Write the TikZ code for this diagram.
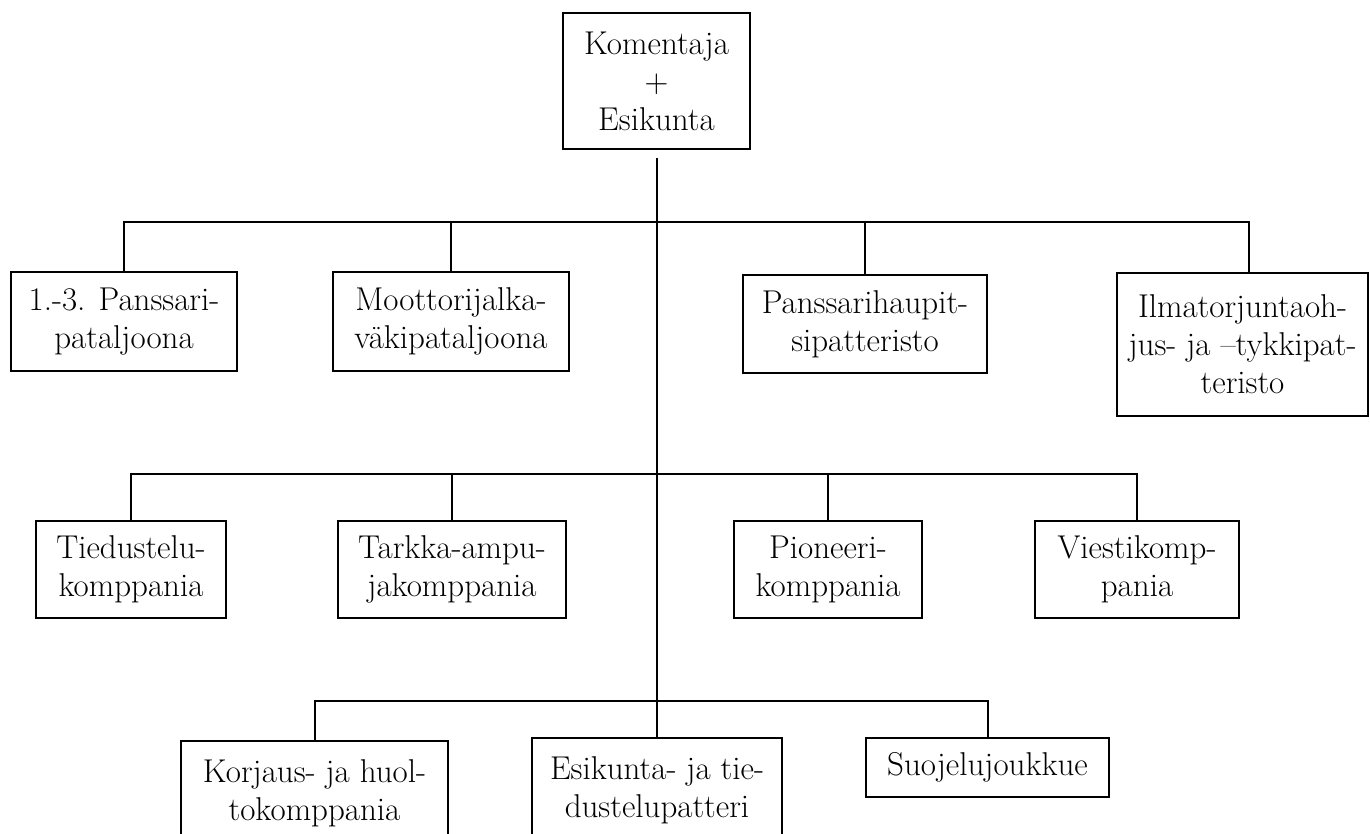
\documentclass[tikz,border=0pt]{standalone}
\usepackage{tikz}

\begin{document}
\begin{tikzpicture}[x=1pt,y=-1pt]
  \tikzset{
    unit/.style={draw, line width=2pt, align=center, inner sep=0pt,
      font=\fontsize{33}{38}\selectfont},
    link/.style={line width=2pt},
  }
\useasboundingbox (0,0) rectangle (1370,833);
\clip (0,0) rectangle (1370,833);

% command
\node[unit, minimum width=187, minimum height=136] (hq) at (656.5,81) {Komentaja\\+\\Esikunta};

% first level
\node[unit, minimum width=226, minimum height=99] (pans) at (124,321.5) {1.-3. Panssari-\\pataljoona};
\node[unit, minimum width=236, minimum height=99] (moot) at (451,321.5) {Moottorijalka-\\väkipataljoona};
\node[unit, minimum width=244, minimum height=98] (haup) at (865,324) {Panssarihaupit-\\sipatteristo};
\node[unit, minimum width=251, minimum height=143] (ilma) at (1242.5,344.5) {Ilmatorjuntaoh-\\jus- ja –tykkipat-\\teristo};

% second level
\node[unit, minimum width=190, minimum height=97] (tied) at (131,569.5) {Tiedustelu-\\komppania};
\node[unit, minimum width=228, minimum height=97] (tark) at (452,569.5) {Tarkka-ampu-\\jakomppania};
\node[unit, minimum width=188, minimum height=97] (pion) at (828,569.5) {Pioneeri-\\komppania};
\node[unit, minimum width=204, minimum height=97] (vies) at (1137,569.5) {Viestikomp-\\pania};

% third level
\node[unit, minimum width=267, minimum height=104] (korj) at (314.5,793) {Korjaus- ja huol-\\tokomppania};
\node[unit, minimum width=250, minimum height=104] (esik) at (657,790) {Esikunta- ja tie-\\dustelupatteri};
\node[unit, minimum width=243, minimum height=59] (suoj) at (987.5,767.5) {Suojelujoukkue};

\coordinate (trunk) at (657,158);
\coordinate (bar1) at (657,222);
\coordinate (bar2) at (657,474);
\coordinate (bar3) at (657,701);
\coordinate (ilmadrop) at (1249,222);

\draw[link] (trunk) -- (trunk |- esik.north);

\draw[link] (pans.north) |- (ilmadrop) -- (ilmadrop |- ilma.north);
\draw[link] (moot.north) -- (moot.north |- bar1);
\draw[link] (haup.north) -- (haup.north |- bar1);

\draw[link] (tied.north) |- (bar2) -| (vies.north);
\draw[link] (tark.north) -- (tark.north |- bar2);
\draw[link] (pion.north) -- (pion.north |- bar2);

\draw[link] (korj.north) |- (bar3) -| (suoj.north);

\end{tikzpicture}
\end{document}
